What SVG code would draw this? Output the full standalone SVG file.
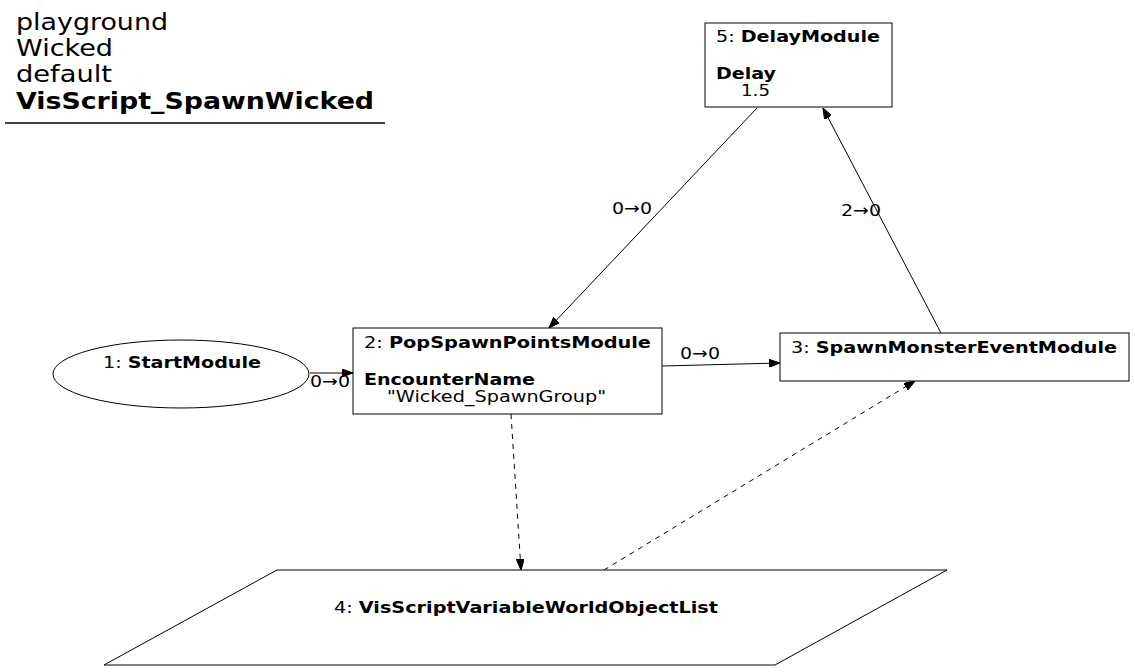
<svg xmlns="http://www.w3.org/2000/svg" width="1135" height="672" viewBox="0 0 1135 672">
<style>
text{font-family:"DejaVu Sans",sans-serif;font-size:16px;fill:#000}
.t{font-size:23px}
.b{font-weight:bold}
.n{fill:#fff;stroke:#000;stroke-width:1}
.e{fill:none;stroke:#000;stroke-width:1}
.d{stroke-dasharray:5,5}
</style>
<defs>
<marker id="ah" markerWidth="11" markerHeight="8" refX="11" refY="4" orient="auto" markerUnits="userSpaceOnUse">
<path d="M0,0 L11,4 L0,8 Z" fill="#000" stroke="#000"/>
</marker>
</defs>
<rect width="1135" height="672" fill="#fff"/>
<g id="title">
<text class="t" x="16" y="30" textLength="152" lengthAdjust="spacingAndGlyphs">playground</text>
<text class="t" x="16" y="56" textLength="97" lengthAdjust="spacingAndGlyphs">Wicked</text>
<text class="t" x="16" y="82" textLength="96" lengthAdjust="spacingAndGlyphs">default</text>
<text class="t b" x="16" y="109" textLength="358" lengthAdjust="spacingAndGlyphs">VisScript_SpawnWicked</text>
<line x1="5" y1="123" x2="385" y2="123" stroke="#000" stroke-width="1.3"/>
</g>
<g id="connectors">
<line class="e" x1="310" y1="373" x2="353" y2="373" marker-end="url(#ah)"/>
<text x="310" y="387" textLength="40" lengthAdjust="spacingAndGlyphs">0→0</text>
<line class="e" x1="662" y1="366" x2="780" y2="363" marker-end="url(#ah)"/>
<text x="680" y="359" textLength="40" lengthAdjust="spacingAndGlyphs">0→0</text>
<line class="e" x1="757" y1="108" x2="549" y2="328" marker-end="url(#ah)"/>
<text x="612" y="214" textLength="40" lengthAdjust="spacingAndGlyphs">0→0</text>
<line class="e" x1="941" y1="333" x2="823" y2="108" marker-end="url(#ah)"/>
<text x="841" y="216" textLength="40" lengthAdjust="spacingAndGlyphs">2→0</text>
<line class="e d" x1="511" y1="414" x2="521" y2="570" marker-end="url(#ah)"/>
<line class="e d" x1="604" y1="570" x2="915" y2="381" marker-end="url(#ah)"/>
</g>
<g id="node1">
<ellipse class="n" cx="181" cy="374" rx="128" ry="34"/>
<text x="103" y="368" textLength="158" lengthAdjust="spacingAndGlyphs">1: <tspan class="b">StartModule</tspan></text>
</g>
<g id="node2">
<rect class="n" x="353" y="328" width="309" height="86"/>
<text x="364" y="348" textLength="287" lengthAdjust="spacingAndGlyphs">2: <tspan class="b">PopSpawnPointsModule</tspan></text>
<text class="b" x="364" y="385" textLength="171" lengthAdjust="spacingAndGlyphs">EncounterName</text>
<text x="387" y="402" textLength="219" lengthAdjust="spacingAndGlyphs">"Wicked_SpawnGroup"</text>
</g>
<g id="node3">
<rect class="n" x="780" y="333" width="349" height="48"/>
<text x="791" y="353" textLength="326" lengthAdjust="spacingAndGlyphs">3: <tspan class="b">SpawnMonsterEventModule</tspan></text>
</g>
<g id="node4">
<polygon class="n" points="277,570 947,570 775,665 104,665"/>
<text x="334" y="613" textLength="384" lengthAdjust="spacingAndGlyphs">4: <tspan class="b">VisScriptVariableWorldObjectList</tspan></text>
</g>
<g id="node5">
<rect class="n" x="705" y="23" width="187" height="84"/>
<text x="716" y="42" textLength="164" lengthAdjust="spacingAndGlyphs">5: <tspan class="b">DelayModule</tspan></text>
<text class="b" x="716" y="79" textLength="60" lengthAdjust="spacingAndGlyphs">Delay</text>
<text x="741" y="96" textLength="29" lengthAdjust="spacingAndGlyphs">1.5</text>
</g>
</svg>
